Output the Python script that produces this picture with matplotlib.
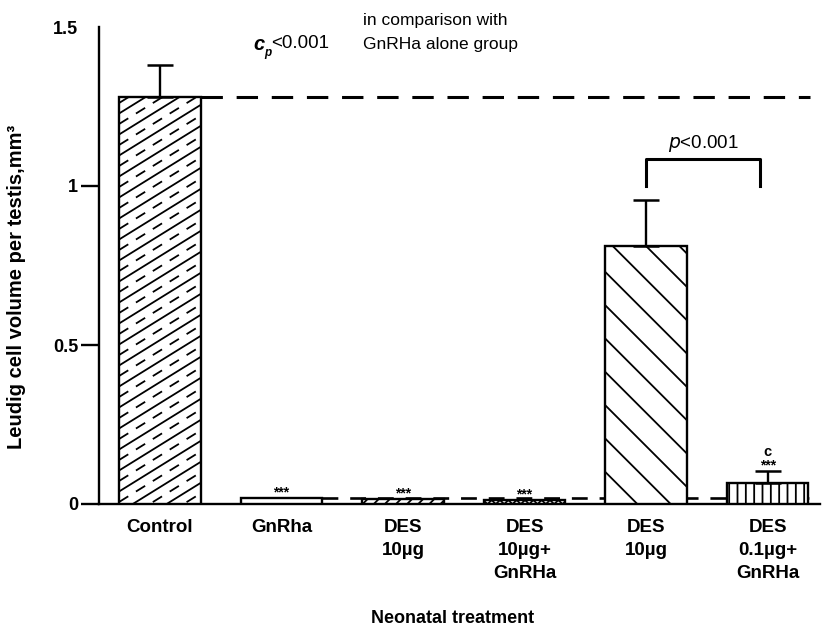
import numpy as np
import matplotlib
matplotlib.use('Agg')
import matplotlib.pyplot as plt

plt.rcParams['font.family'] = ['Liberation Sans', 'DejaVu Sans']
plt.rcParams['hatch.linewidth'] = 1.3

groups = ['Control', 'GnRha', 'DES\n10µg', 'DES\n10µg+\nGnRHa', 'DES\n10µg', 'DES\n0.1µg+\nGnRHa']
means = [1.28, 0.018, 0.015, 0.012, 0.81, 0.065]
errs = [0.10, 0.0, 0.0, 0.0, 0.145, 0.038]
stars = ['', '***', '***', '***', '', '***']
hatches = [None, None, '///', 'xxxx', '\\', '||']
yticks = [0, 0.5, 1, 1.5]
ytick_labels = ['0', '0.5', '1', '1.5']

W, H = 823, 628
fig = plt.figure(figsize=(W / 100, H / 100), dpi=100)
ax = fig.add_axes([99 / W, 1 - 504 / H, 721 / W, 477 / H])

x = np.arange(len(groups))
bars = ax.bar(x, means, width=0.67, color='white', edgecolor='black',
              linewidth=1.7, zorder=3)
for b, h in zip(bars, hatches):
    if h:
        b.set_hatch(h)

# one-sided error bars
for i in range(len(groups)):
    if errs[i] > 0:
        ax.errorbar(x[i], means[i], yerr=[[0], [errs[i]]], fmt='none',
                    ecolor='black', elinewidth=1.7, capsize=9.5, capthick=1.8,
                    zorder=4)

ax.set_xlim(-0.5, 5.43)
ax.set_ylim(0, 1.5)

# control bar: solid diagonal lines with dashed lines in between
bx0, by0 = ax.transData.transform((x[0] - 0.335, 0))
bx1, by1 = ax.transData.transform((x[0] + 0.335, means[0]))
inv = ax.transData.inverted()
slope = 0.62
step = 21
for k, c in enumerate(np.arange(by0 - slope * (bx1 - bx0) - step, by1 + step, step / 2)):
    p0 = inv.transform((bx0, c))
    p1 = inv.transform((bx1, c + slope * (bx1 - bx0)))
    ls = '-' if k % 2 == 0 else (0, (6, 5))
    ln, = ax.plot([p0[0], p1[0]], [p0[1], p1[1]], color='black', lw=1.3,
                  linestyle=ls, zorder=3.5)
    ln.set_clip_path(bars[0])

# reference levels: control and GnRHa alone
ax.plot([x[0] + 0.335, 5.35], [means[0], means[0]], color='black', lw=2.2,
        dashes=(7, 4.5), zorder=2)
ax.plot([x[1] + 0.335, 5.43], [means[1], means[1]], color='black', lw=1.9,
        dashes=(6, 4.5), zorder=2)

# significance bracket
ax.plot([4, 4, 4.94, 4.94], [1.0, 1.085, 1.085, 1.0], color='black', lw=2.2,
        zorder=4)
ax.text(4.47, 1.1, '$\\it{p}$<0.001', ha='center', va='bottom', fontsize=13.5)

for i in range(len(groups)):
    if stars[i]:
        ax.annotate(stars[i], (x[i], means[i] + errs[i]), xytext=(0, -1),
                    textcoords='offset points', ha='center', va='bottom',
                    fontsize=10, fontweight='bold')
ax.annotate('c', (x[5], means[5] + errs[5]), xytext=(0, 9),
            textcoords='offset points', ha='center', va='bottom',
            fontsize=10.5, fontweight='bold')

ax.spines['top'].set_visible(False)
ax.spines['right'].set_visible(False)
ax.spines['left'].set_linewidth(1.7)
ax.spines['bottom'].set_linewidth(1.7)

ax.set_yticks(yticks)
ax.set_yticklabels(ytick_labels, fontsize=13, fontweight='bold')
ax.tick_params(axis='y', length=13, width=1.7, pad=2)
ax.yaxis.get_major_ticks()[-1].tick1line.set_visible(False)
ax.set_xticks(x)
ax.set_xticklabels(groups, fontsize=13.5, fontweight='bold', linespacing=1.45)
ax.tick_params(axis='x', length=0, pad=11)

ax.set_ylabel('Leudig cell volume per testis,mm³', fontsize=14.5,
              fontweight='bold', va='center')
ax.yaxis.set_label_coords(-0.114, 0.455)
ax.set_xlabel('Neonatal treatment', fontsize=13, fontweight='bold', va='center')
ax.xaxis.set_label_coords(0.491, -0.239)

fig.text(253 / W, 1 - 45 / H, 'c', fontsize=14.5, fontweight='bold',
         style='italic', va='center')
fig.text(264 / W, 1 - 53 / H, 'p', fontsize=8.5, fontweight='bold',
         style='italic', va='center')
fig.text(271 / W, 1 - 44 / H, '<0.001', fontsize=13.5, va='center')
fig.text(363 / W, 1 - 20 / H, 'in comparison with', fontsize=12.5, va='center')
fig.text(363 / W, 1 - 44 / H, 'GnRHa alone group', fontsize=12.5, va='center')

fig.savefig('out.png', dpi=100)
